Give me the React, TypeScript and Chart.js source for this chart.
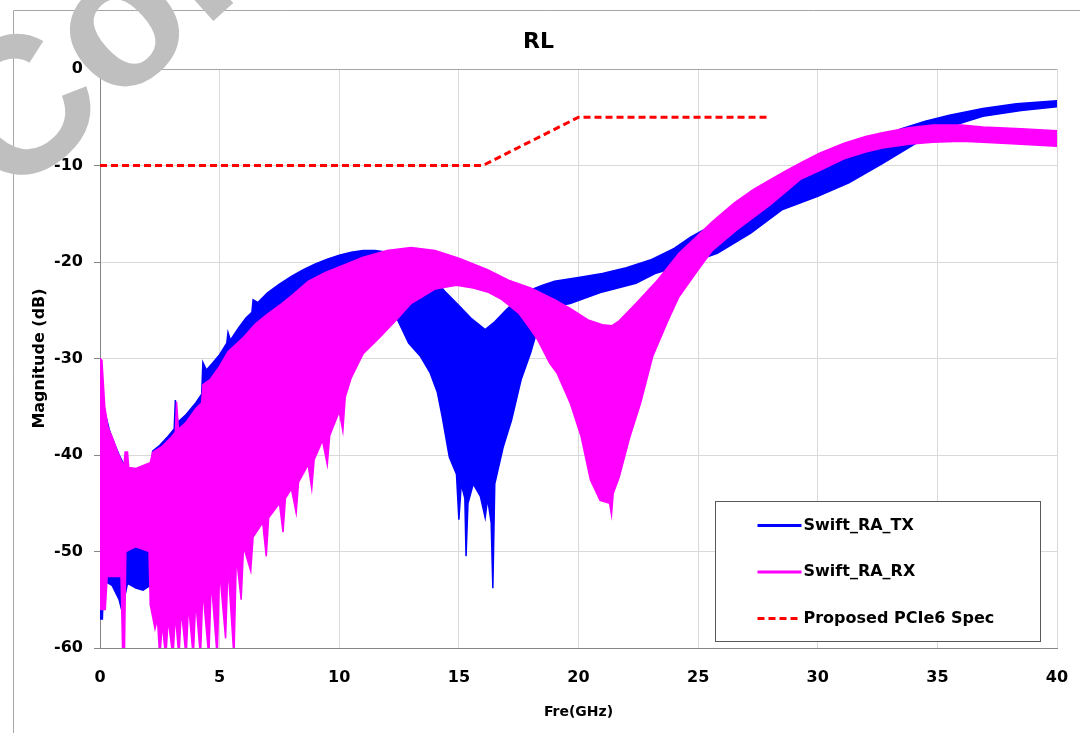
import React, { useEffect, useRef } from "react";
import { Chart, registerables } from "chart.js";

Chart.register(...registerables);

const TITLE = "RL";
const X_TITLE = "Fre(GHz)";
const Y_TITLE = "Magnitude (dB)";
const X_MIN = 0;
const X_MAX = 40;
const X_STEP = 5;
const Y_MIN = -60;
const Y_MAX = 0;
const Y_STEP = 10;
const SERIES_NAMES = ["Swift_RA_TX", "Swift_RA_RX", "Proposed PCIe6 Spec"];
const WATERMARK = "Confidential";

// Swift_RA_TX: upper and lower envelope of the dense ripple [GHz, dB]
const TX_UPPER: [number, number][] = [
  [0, -33], [0.2, -35.5], [0.4, -37.5], [0.6, -38.8], [0.8, -40], [1.0, -41], [1.3, -41.6], [1.6, -41.6],
  [2.0, -41.3], [2.15, -41.1], [2.2, -39.6], [2.5, -39], [2.8, -38.2], [3.1, -37.3], [3.15, -34.3], [3.25, -36.6],
  [3.6, -35.8], [4.0, -34.6], [4.25, -33.7], [4.3, -30.4], [4.45, -31.2], [4.7, -30.5], [5.0, -29.6], [5.3, -28.4],
  [5.35, -27.3], [5.45, -28.1], [5.8, -26.8], [6.1, -25.8], [6.35, -25.2], [6.4, -23.9], [6.6, -24.2], [7.0, -23.2],
  [7.5, -22.3], [8.0, -21.5], [8.5, -20.8], [9.0, -20.2], [9.5, -19.7], [10.0, -19.3], [10.5, -19], [11.0, -18.8],
  [11.5, -18.8], [12.0, -19], [12.5, -19.4], [13.0, -20], [13.5, -20.8], [14.0, -21.8], [14.4, -23], [15.0, -24.5],
  [15.5, -25.8], [16.1, -27], [16.5, -26.2], [17.0, -24.9], [17.5, -23.8], [18.0, -22.9], [18.5, -22.4], [19.0, -22.0],
  [20.0, -21.6], [21.0, -21.2], [22.0, -20.6], [23.0, -19.8], [24.0, -18.6], [24.7, -17.4], [25.5, -16.3], [26.5, -15],
  [27.5, -13.6], [28.5, -12.2], [29.5, -10.7], [30.5, -9.4], [31.5, -8.2], [32.5, -7.1], [33.5, -6.2], [34.5, -5.4],
  [35.5, -4.8], [36.9, -4.1], [38.3, -3.6], [40, -3.3],
];
const TX_LOWER: [number, number][] = [
  [0, -57], [0.1, -57], [0.15, -53], [0.5, -53.5], [0.8, -55], [0.95, -56.5], [1.05, -54.5], [1.15, -53.3],
  [1.5, -53.8], [1.8, -54], [2.1, -53.5], [2.2, -55], [2.5, -54.5], [3.0, -53.5], [4.0, -51], [5.0, -48],
  [6.0, -46], [7.0, -43], [8.0, -40], [9.0, -35.5], [10.0, -32], [11.0, -28.5], [12.0, -26.2], [12.4, -25.8],
  [12.9, -28.4], [13.4, -29.8], [13.8, -31.5], [14.1, -33.5], [14.3, -36], [14.6, -40.2], [14.9, -42], [15.0, -46.7],
  [15.1, -43], [15.25, -44.5], [15.3, -50.5], [15.38, -45], [15.6, -43], [15.9, -44.3], [16.1, -46.5], [16.2, -44.5],
  [16.35, -47], [16.42, -53.8], [16.5, -43], [16.85, -39.2], [17.2, -36.4], [17.6, -32.2], [18.0, -29.4], [18.2, -27.7],
  [18.5, -25.5], [19.0, -24.6], [19.65, -24.3], [21.0, -23.1], [22.4, -22.2], [23.2, -21.2], [24.0, -20.6], [25.0, -19.8],
  [25.8, -19.1], [27.2, -17], [28.5, -14.6], [30.0, -13.2], [31.3, -11.8], [32.7, -9.8], [34.1, -7.7], [35.5, -6],
  [36.9, -4.9], [38.5, -4.3], [40, -3.9],
];

// Swift_RA_RX: upper and lower envelope [GHz, dB]
const RX_UPPER: [number, number][] = [
  [0, -30], [0.08, -30.2], [0.2, -35], [0.33, -37.1], [0.55, -38.4], [0.75, -39.8], [1.0, -41.2], [1.05, -39.7],
  [1.15, -39.7], [1.2, -41.3], [1.5, -41.4], [2.1, -40.8], [2.2, -39.7], [2.6, -39.1], [3.0, -38.1], [3.15, -37.6],
  [3.2, -34.5], [3.28, -37.3], [3.6, -36.6], [4.0, -35.2], [4.25, -34.6], [4.3, -32.7], [4.6, -32.2], [5.0, -30.8],
  [5.35, -29.3], [6.0, -27.8], [6.5, -26.4], [7.0, -25.4], [7.6, -24.3], [8.1, -23.3], [8.7, -22], [9.4, -21.1],
  [10.1, -20.4], [11.0, -19.5], [12.0, -18.8], [13.0, -18.5], [14.0, -18.8], [15.0, -19.6], [16.2, -20.8], [17.1, -21.9],
  [18.0, -22.7], [19.0, -23.9], [19.65, -24.8], [20.4, -26], [21.0, -26.5], [21.4, -26.6], [21.7, -26.1], [22.4, -24.3],
  [23.3, -21.9], [24.2, -19.1], [25.6, -15.8], [26.5, -13.9], [27.3, -12.5], [28.0, -11.5], [28.7, -10.5], [29.3, -9.7],
  [30.1, -8.7], [31.1, -7.7], [32.0, -7.0], [32.7, -6.6], [33.8, -6.1], [34.8, -5.8], [36.0, -5.8], [36.9, -6.0],
  [38.5, -6.2], [40, -6.4],
];
const RX_LOWER: [number, number][] = [
  [0, -56], [0.22, -56], [0.3, -52.6], [0.88, -52.6], [0.95, -61], [1.02, -61], [1.08, -50], [1.5, -49.5],
  [2.05, -50], [2.1, -55.5], [2.3, -58], [2.4, -57], [2.5, -61], [2.6, -57.5], [2.75, -61], [2.85, -57],
  [3.05, -61], [3.15, -56.5], [3.3, -61], [3.4, -56], [3.6, -61], [3.7, -55.5], [3.9, -61], [4.0, -55],
  [4.2, -61], [4.3, -54], [4.55, -61], [4.65, -53], [4.9, -61], [5.0, -52], [5.25, -59], [5.35, -51.5],
  [5.6, -61], [5.7, -50.5], [5.9, -55], [6.0, -49.5], [6.3, -52], [6.4, -48.5], [6.8, -47], [6.95, -50.5],
  [7.05, -46.5], [7.5, -45], [7.65, -48], [7.75, -44.5], [8.0, -43.5], [8.2, -46], [8.3, -42.8], [8.7, -41],
  [8.85, -43.5], [8.95, -40.5], [9.3, -38.5], [9.5, -41], [9.6, -38], [10.0, -35.5], [10.15, -37.5], [10.25, -34],
  [10.5, -32], [11.0, -29.5], [11.7, -27.8], [12.5, -25.7], [13.0, -24.3], [14.0, -22.8], [14.9, -22.4], [15.6, -22.7],
  [16.2, -23.1], [16.8, -23.9], [17.5, -25.3], [18.0, -27], [18.3, -28.1], [18.8, -30.5], [19.1, -31.5], [19.65, -34.6],
  [20.1, -38], [20.5, -42.6], [20.9, -44.7], [21.3, -45], [21.38, -46.2], [21.45, -44], [21.7, -42.3], [22.15, -38.1],
  [22.6, -34.6], [23.1, -29.8], [23.7, -26.3], [24.2, -23.6], [25.0, -20.8], [25.6, -18.8], [26.6, -16.7], [28.0, -14.1],
  [29.3, -11.4], [30.1, -10.5], [31.1, -9.3], [32.0, -8.6], [32.7, -8.2], [33.8, -7.8], [34.8, -7.6], [36.0, -7.5],
  [36.9, -7.6], [38.5, -7.8], [40, -8.0],
];

// Proposed PCIe6 Spec [GHz, dB]
const SPEC: [number, number][] = [[0, -10], [16, -10], [20, -5], [28, -5]];

const BLUE = "#0000ff";
const MAGENTA = "#ff00ff";
const RED = "#ff0000";
const FONT = "'DejaVu Sans', 'Open Sans', sans-serif";

const toPts = (arr: [number, number][]) => arr.map(([x, y]) => ({ x, y }));

const framePlugin = {
  id: "frame",
  beforeDraw(chart: any) {
    const ctx = chart.ctx;
    ctx.save();
    ctx.fillStyle = "#ffffff";
    ctx.fillRect(0, 0, chart.width, chart.height);
    ctx.strokeStyle = "#a6a6a6";
    ctx.lineWidth = 1;
    ctx.beginPath();
    ctx.moveTo(13.5, chart.height);
    ctx.lineTo(13.5, 10.5);
    ctx.lineTo(chart.width, 10.5);
    ctx.stroke();
    ctx.restore();
  },
};

const legendPlugin = {
  id: "boxLegend",
  afterDatasetsDraw(chart: any) {
    const ctx = chart.ctx;
    const a = chart.chartArea;
    const bx = a.right - 341.5;
    const by = a.bottom - 146.5;
    const bw = 325;
    const bh = 140;
    ctx.save();
    ctx.fillStyle = "#ffffff";
    ctx.fillRect(bx, by, bw, bh);
    ctx.strokeStyle = "#595959";
    ctx.lineWidth = 1;
    ctx.strokeRect(bx, by, bw, bh);
    const colors = [BLUE, MAGENTA, RED];
    SERIES_NAMES.forEach((name, i) => {
      const y = by + 24 + i * 46.5;
      ctx.beginPath();
      ctx.strokeStyle = colors[i];
      ctx.lineWidth = 3;
      ctx.setLineDash(i === 2 ? [7, 4] : []);
      ctx.moveTo(bx + 42, y);
      ctx.lineTo(bx + 86, y);
      ctx.stroke();
      ctx.setLineDash([]);
      ctx.fillStyle = "#000000";
      ctx.font = `bold 16px ${FONT}`;
      ctx.textAlign = "left";
      ctx.textBaseline = "middle";
      ctx.fillText(name, bx + 88, y);
    });
    ctx.restore();
  },
};

const watermarkPlugin = {
  id: "watermark",
  afterDraw(chart: any) {
    const ctx = chart.ctx;
    ctx.save();
    ctx.translate(10, 204);
    ctx.rotate((-42 * Math.PI) / 180);
    ctx.font = "bold 195px 'Liberation Sans', Arial, sans-serif";
    ctx.fillStyle = "#bfbfbf";
    ctx.textAlign = "left";
    ctx.textBaseline = "alphabetic";
    ctx.fillText(WATERMARK, 0, 0);
    ctx.restore();
  },
};

export default function App() {
  const canvasRef = useRef<HTMLCanvasElement | null>(null);

  useEffect(() => {
    if (!canvasRef.current) return;
    const band = (data: [number, number][], color: string, fill: any, order: number) => ({
      type: "line" as const,
      data: toPts(data),
      borderColor: color,
      backgroundColor: color,
      borderWidth: 1.5,
      pointRadius: 0,
      tension: 0,
      fill,
      order,
    });
    const chart = new Chart(canvasRef.current, {
      type: "line",
      data: {
        datasets: [
          { label: SERIES_NAMES[0], ...band(TX_UPPER, BLUE, "+1", 3) },
          { label: SERIES_NAMES[0] + " low", ...band(TX_LOWER, BLUE, false, 3) },
          { label: SERIES_NAMES[1], ...band(RX_UPPER, MAGENTA, "+1", 2) },
          { label: SERIES_NAMES[1] + " low", ...band(RX_LOWER, MAGENTA, false, 2) },
          {
            label: SERIES_NAMES[2],
            type: "line",
            data: toPts(SPEC),
            borderColor: RED,
            backgroundColor: RED,
            borderWidth: 3,
            borderDash: [7, 4],
            pointRadius: 0,
            tension: 0,
            fill: false,
            order: 1,
          },
        ] as any,
      },
      options: {
        animation: false,
        responsive: false,
        devicePixelRatio: 1,
        layout: { padding: { left: 20, right: 23, top: 0, bottom: 0 } },
        plugins: {
          legend: { display: false },
          tooltip: { enabled: false },
          title: {
            display: true,
            text: TITLE,
            color: "#000000",
            font: { family: FONT, size: 22, weight: "bold" },
            padding: { top: 29, bottom: 13.6 },
          },
        },
        scales: {
          x: {
            type: "linear",
            min: X_MIN,
            max: X_MAX,
            afterFit: (s: any) => {
              s.height = 85;
              s.paddingLeft = 0;
              s.paddingRight = 0;
            },
            ticks: {
              stepSize: X_STEP,
              autoSkip: false,
              maxRotation: 0,
              color: "#000000",
              padding: 20,
              font: { family: FONT, size: 16, weight: "bold" },
            },
            grid: { color: "#d9d9d9", drawTicks: false },
            border: { color: "#868686", width: 1 },
            title: {
              display: true,
              text: X_TITLE,
              color: "#000000",
              font: { family: FONT, size: 14, weight: "bold" },
              padding: { top: 4, bottom: 12 },
            },
          },
          y: {
            type: "linear",
            min: Y_MIN,
            max: Y_MAX,
            afterFit: (s: any) => {
              s.width = 80;
            },
            ticks: {
              stepSize: Y_STEP,
              autoSkip: false,
              color: "#000000",
              padding: 11,
              font: { family: FONT, size: 16, weight: "bold" },
            },
            grid: {
              color: (c: any) => (c.tick && c.tick.value === 0 ? "#a6a6a6" : "#d9d9d9"),
              tickColor: "#868686",
              tickLength: 6,
            },
            border: { color: "#868686", width: 1 },
            title: {
              display: true,
              text: Y_TITLE,
              color: "#000000",
              font: { family: FONT, size: 16, weight: "bold" },
              padding: { top: 10, bottom: 0 },
            },
          },
        },
      } as any,
      plugins: [framePlugin, legendPlugin, watermarkPlugin],
    });
    return () => chart.destroy();
  }, []);

  return (
    <div style={{ position: "absolute", left: 0, top: 0, width: 1080, height: 733 }}>
      <canvas ref={canvasRef} width={1080} height={733} style={{ display: "block" }} />
    </div>
  );
}
